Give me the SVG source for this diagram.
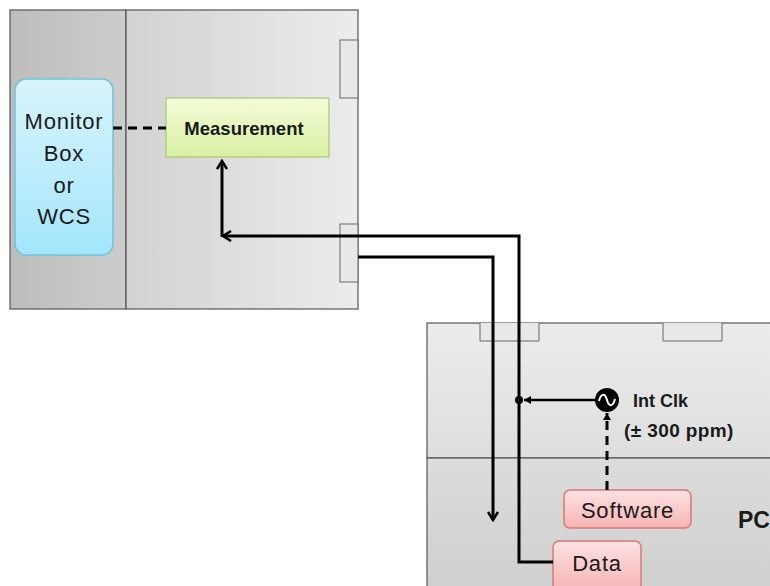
<svg xmlns="http://www.w3.org/2000/svg" width="770" height="586" viewBox="0 0 770 586">
<defs>
<linearGradient id="gL" x1="0" y1="0" x2="1" y2="0"><stop offset="0" stop-color="#bdbdbd"/><stop offset="1" stop-color="#cdcdcd"/></linearGradient>
<linearGradient id="gR" x1="0" y1="0" x2="1" y2="0"><stop offset="0" stop-color="#d2d2d2"/><stop offset="1" stop-color="#ececec"/></linearGradient>
<linearGradient id="gPC1" x1="0" y1="0" x2="0" y2="1"><stop offset="0" stop-color="#ececec"/><stop offset="1" stop-color="#dedede"/></linearGradient>
<linearGradient id="gPC2" x1="0" y1="0" x2="0" y2="1"><stop offset="0" stop-color="#dcdcdc"/><stop offset="1" stop-color="#cfcfcf"/></linearGradient>
<linearGradient id="gBlue" x1="0" y1="0" x2="0" y2="1"><stop offset="0" stop-color="#d8f4fd"/><stop offset="1" stop-color="#a4e6fb"/></linearGradient>
<linearGradient id="gGreen" x1="0" y1="0" x2="0" y2="1"><stop offset="0" stop-color="#f4fbd9"/><stop offset="1" stop-color="#d8f0a2"/></linearGradient>
<linearGradient id="gRed" x1="0" y1="0" x2="0" y2="1"><stop offset="0" stop-color="#fde2e2"/><stop offset="1" stop-color="#f6b4b4"/></linearGradient>
<marker id="ah" markerWidth="12" markerHeight="12" refX="10" refY="6" orient="auto" markerUnits="userSpaceOnUse"><path d="M2,1 L10,6 L2,11" fill="none" stroke="#000" stroke-width="2.5"/></marker>
<marker id="ahs" markerWidth="10" markerHeight="10" refX="8" refY="5" orient="auto" markerUnits="userSpaceOnUse"><path d="M1,1 L8,5 L1,9 Z" fill="#000"/></marker>
</defs>
<style>
text{font-family:"Liberation Sans","Open Sans",sans-serif;fill:#1a1a1a}
.frame{stroke:#555;stroke-width:1.2}
.tab{fill:#e8e8e8;stroke:#666;stroke-width:1}
.wire{fill:none;stroke:#000;stroke-width:3}
.dash{fill:none;stroke:#000;stroke-width:3;stroke-dasharray:9,6}
.big{font-size:22px;letter-spacing:0.8px}
</style>
<g id="device">
<rect x="10" y="10" width="116" height="299" fill="url(#gL)" class="frame"/>
<rect x="126" y="10" width="232" height="299" fill="url(#gR)" class="frame"/>
<rect x="340" y="40" width="18" height="58" class="tab"/>
<rect x="340" y="224" width="18" height="58" class="tab"/>
</g>
<g id="pc">
<rect x="427" y="323" width="350" height="135" fill="url(#gPC1)" class="frame"/>
<rect x="427" y="458" width="350" height="135" fill="url(#gPC2)" class="frame"/>
<path d="M480,323 V341 H539 V323" class="tab"/>
<path d="M663,323 V341 H722 V323" class="tab"/>
<text x="738" y="528" font-size="23" font-weight="bold">PC</text>
</g>
<g id="monitor">
<rect x="15" y="79" width="98" height="176" rx="11" fill="url(#gBlue)" stroke="#6fc3d9" stroke-width="1.5"/>
<text x="64" y="129" class="big" text-anchor="middle">Monitor</text>
<text x="64" y="161" class="big" text-anchor="middle">Box</text>
<text x="64" y="193" class="big" text-anchor="middle">or</text>
<text x="64" y="224" class="big" text-anchor="middle">WCS</text>
</g>
<g id="measurement">
<rect x="166" y="98" width="163" height="59" fill="url(#gGreen)" stroke="#a9c96a" stroke-width="1.2"/>
<text x="244" y="135" font-size="18.5" font-weight="bold" text-anchor="middle">Measurement</text>
</g>
<g id="clock">
<circle cx="607" cy="400" r="12" fill="#000"/>
<path d="M599,401 C601,393 605,393 607,400 C609,407 613,407 615,399" fill="none" stroke="#fff" stroke-width="2"/>
<text x="633" y="407" font-size="18" font-weight="bold">Int Clk</text>
<text x="624" y="437" font-size="19" font-weight="bold" letter-spacing="0.4">(± 300 ppm)</text>
</g>
<g id="software">
<rect x="564" y="490" width="127" height="38" rx="6" fill="url(#gRed)" stroke="#d87878" stroke-width="1.5"/>
<text x="627.5" y="518" class="big" text-anchor="middle">Software</text>
</g>
<g id="data">
<rect x="553" y="541" width="88" height="50" rx="6" fill="url(#gRed)" stroke="#d87878" stroke-width="1.5"/>
<text x="597" y="571" class="big" text-anchor="middle">Data</text>
</g>
<g id="connectors">
<line x1="113" y1="128" x2="166" y2="128" class="dash"/>
<path d="M222,237 V161" class="wire" marker-end="url(#ah)"/>
<path d="M553,562 H519 V236 H223" class="wire" marker-end="url(#ah)"/>
<path d="M358,257 H493 V520" class="wire" marker-end="url(#ah)"/>
<path d="M595,400 H524" fill="none" stroke="#000" stroke-width="2.5" marker-end="url(#ahs)"/>
<circle cx="519" cy="400" r="4" fill="#000"/>
<path d="M607,490 V413" class="dash" marker-end="url(#ahs)"/>
</g>
</svg>
